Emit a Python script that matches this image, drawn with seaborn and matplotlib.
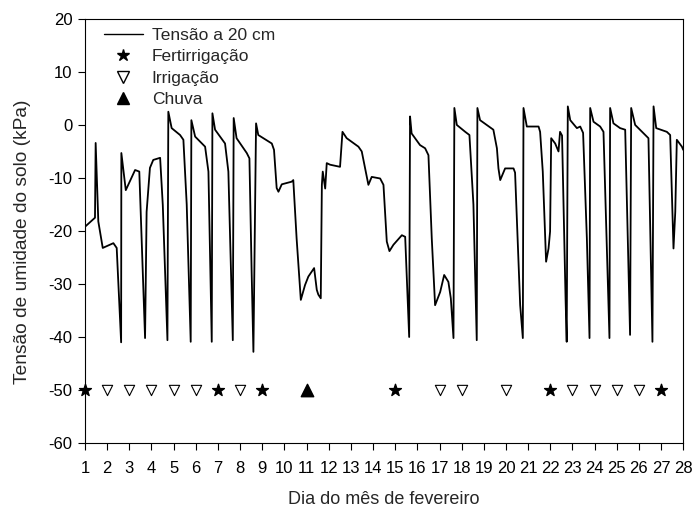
import numpy as np
import pandas as pd
import matplotlib
matplotlib.use("Agg")
import matplotlib.pyplot as plt
import seaborn as sns
from matplotlib.lines import Line2D

# soil water tension trace at 20 cm (day, kPa)
dias = [1.00, 1.45, 1.48, 1.60, 1.80, 2.28, 2.43, 2.63, 2.64, 2.84, 3.26, 3.45,
        3.71, 3.78, 3.93, 4.08, 4.39, 4.51, 4.72, 4.76, 4.91, 5.29, 5.44, 5.59,
        5.77, 5.80, 5.97, 6.42, 6.57, 6.72, 6.75, 6.87, 7.32, 7.47, 7.67, 7.71,
        7.84, 8.30, 8.42, 8.52, 8.60, 8.72, 8.82, 9.43, 9.53, 9.65, 9.73, 9.88,
        10.33, 10.40, 10.55, 10.74, 10.93, 11.08, 11.34, 11.46, 11.53, 11.64,
        11.69, 11.73, 11.84, 11.91, 12.06, 12.51, 12.62, 12.81, 13.34, 13.49,
        13.79, 13.94, 14.32, 14.47, 14.62, 14.74, 14.92, 15.30, 15.45, 15.63,
        15.67, 15.74, 16.12, 16.35, 16.50, 16.65, 16.80, 17.03, 17.21, 17.40,
        17.51, 17.63, 17.67, 17.78, 18.16, 18.35, 18.53, 18.68, 18.71, 18.83,
        19.43, 19.59, 19.66, 19.74, 19.96, 20.34, 20.41, 20.64, 20.76, 20.79,
        20.94, 21.47, 21.54, 21.66, 21.81, 21.92, 21.99, 22.04, 22.22, 22.37,
        22.44, 22.53, 22.67, 22.69, 22.74, 22.79, 22.90, 23.20, 23.35, 23.48,
        23.65, 23.77, 23.80, 23.95, 24.25, 24.40, 24.63, 24.67, 24.70, 24.85,
        25.15, 25.38, 25.60, 25.65, 25.83, 26.21, 26.43, 26.61, 26.66, 26.78,
        27.26, 27.41, 27.56, 27.64, 27.71, 27.94, 28.00]
tensao = [-19.2, -17.5, -3.4, -18.2, -23.2, -22.3, -23.2, -41.0, -5.3, -12.3, -8.5, -8.8,
          -40.2, -16.4, -8.1, -6.6, -6.2, -15.1, -40.6, 2.5, -0.6, -1.9, -2.8, -15.0,
          -40.9, 0.9, -2.2, -4.1, -8.8, -40.9, 2.2, -0.9, -3.5, -8.8, -40.6, 1.3,
          -2.5, -5.3, -6.3, -27.7, -42.8, 0.3, -1.9, -3.5, -4.7, -11.9, -12.6, -11.2,
          -10.7, -10.4, -21.4, -33.0, -30.2, -28.6, -27.0, -31.1, -32.0, -32.7,
          -11.3, -8.8, -12.0, -7.2, -7.5, -7.9, -1.3, -2.5, -4.1, -5.0,
          -11.3, -9.8, -10.1, -11.3, -22.0, -23.8, -22.6, -20.8, -21.1, -40.0,
          1.6, -1.6, -3.8, -4.4, -5.7, -21.4, -34.0, -31.5, -28.3, -29.6,
          -32.7, -40.2, 3.2, 0.0, -1.3, -1.9, -15.0, -40.6, 3.2, 0.9,
          -0.9, -4.4, -8.2, -10.4, -8.2, -8.2, -9.0, -34.0, -40.2, 3.2,
          -0.3, -0.3, -1.3, -8.8, -25.8, -23.3, -20.1, -2.5, -3.5, -5.0,
          -1.3, -2.0, -29.6, -33.0, -40.9, 3.5, 0.9, -0.6, -0.3, -1.5,
          -21.4, -40.2, 3.2, 0.6, -0.3, -1.3, -34.0, -40.2, 3.2, 0.3,
          -0.6, -0.9, -39.6, 3.2, 0.0, -1.6, -2.5, -40.9, 3.5, -0.6,
          -1.3, -1.9, -23.3, -16.4, -2.8, -4.1, -4.7]

# events, all drawn at -50 kPa
dias_fert = [1, 7, 9, 15, 22, 27]
dias_irrig = [2, 3, 4, 5, 6, 8, 17, 18, 20, 23, 24, 25, 26]
dias_chuva = [11]
nivel_evento = -50

df = pd.DataFrame({"dia": dias, "tensao": tensao})

sns.set_style("ticks")
plt.rcParams["font.family"] = ["Liberation Sans", "DejaVu Sans"]
plt.rcParams["axes.unicode_minus"] = False

fig = plt.figure(figsize=(6.94, 5.11), dpi=100)
ax = fig.add_axes([0.1225, 0.133, 0.862, 0.830])

sns.lineplot(data=df, x="dia", y="tensao", ax=ax, color="black",
             linewidth=1.3, sort=False, estimator=None)

ax.scatter(dias_fert, [nivel_evento] * len(dias_fert), marker="*", s=80,
           color="black", zorder=3, clip_on=False)
ax.scatter(dias_irrig, [nivel_evento] * len(dias_irrig), marker="v", s=55,
           facecolor="white", edgecolor="black", linewidth=0.8, zorder=3)
ax.scatter(dias_chuva, [nivel_evento] * len(dias_chuva), marker="^", s=80,
           color="black", zorder=3)

ax.set_xlim(1, 28)
ax.set_ylim(-60, 20)
ax.set_xticks(range(1, 29))
ax.set_yticks(range(-60, 21, 10))
ax.tick_params(direction="out", length=5, width=0.8, labelsize=12, colors="black")
ax.tick_params(axis="x", pad=8)
ax.tick_params(axis="y", pad=4)
for sp in ax.spines.values():
    sp.set_visible(True)
    sp.set_linewidth(0.8)
    sp.set_color("black")

ax.set_xlabel("Dia do mês de fevereiro", fontsize=13)
ax.xaxis.set_label_coords(0.5, -0.112)
ax.set_ylabel("Tensão de umidade do solo (kPa)", fontsize=13.8)
ax.yaxis.set_label_coords(-0.09, 0.474)

handles = [
    Line2D([], [], color="black", linewidth=1),
    Line2D([], [], marker="*", color="black", linestyle="none", markersize=9),
    Line2D([], [], marker="v", markerfacecolor="white", markeredgecolor="black",
           linestyle="none", markersize=8),
    Line2D([], [], marker="^", color="black", linestyle="none", markersize=9),
]
labels = ["Tensão a 20 cm", "Fertirrigação", "Irrigação", "Chuva"]
ax.legend(handles, labels, loc="upper left", frameon=False, fontsize=12.5,
          handlelength=2.25, handletextpad=0.5, labelspacing=0.35,
          borderaxespad=0, bbox_to_anchor=(0.02, 0.995))

fig.savefig("out.png", dpi=100)
